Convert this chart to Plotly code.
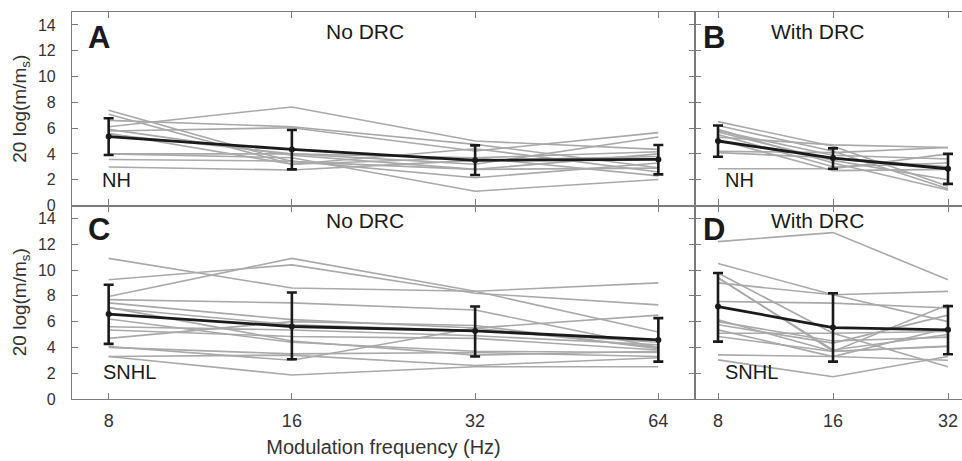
import math
import plotly.graph_objects as go

# ---------------- data ----------------
freqs_no_drc = [8, 16, 32, 64]
freqs_drc = [8, 16, 32]

# Panel A: NH, No DRC (individual listeners)
nh_no_drc = [
    [7.38, 3.4, 2.8, 2.9],
    [7.07, 3.2, 3.7, 2.3],
    [6.11, 7.64, 5.0, 4.35],
    [6.6, 6.11, 4.74, 2.93],
    [5.77, 6.03, 4.22, 5.65],
    [5.52, 4.0, 3.2, 5.31],
    [4.0, 4.0, 3.7, 4.17],
    [4.0, 3.7, 1.11, 2.02],
    [3.57, 3.44, 2.15, 3.3],
    [2.98, 2.75, 3.5, 3.8],
    [5.9, 3.9, 2.8, 4.0],
    [5.6, 3.2, 4.4, 2.6],
]
nh_no_drc_mean = [5.34, 4.35, 3.5, 3.57]
nh_no_drc_hi = [6.76, 5.85, 4.66, 4.69]
nh_no_drc_lo = [3.91, 2.8, 2.36, 2.41]

# Panel B: NH, With DRC
nh_drc = [
    [6.5, 4.6, 1.5],
    [6.2, 4.2, 1.3],
    [5.9, 3.3, 1.2],
    [5.7, 3.5, 2.0],
    [5.5, 3.0, 3.3],
    [5.3, 4.7, 4.5],
    [5.1, 2.7, 2.8],
    [4.2, 4.1, 4.5],
    [4.1, 3.7, 3.0],
    [2.85, 2.85, 4.0],
    [5.8, 3.9, 3.6],
]
nh_drc_mean = [5.0, 3.68, 2.85]
nh_drc_hi = [6.2, 4.43, 4.0]
nh_drc_lo = [3.78, 2.85, 1.68]

# Panel C: SNHL, No DRC
snhl_no_drc = [
    [10.9, 8.6, 8.35, 9.0],
    [7.95, 10.9, 8.35, 5.2],
    [9.25, 10.4, 8.2, 7.3],
    [7.7, 7.45, 6.9, 4.0],
    [7.45, 6.15, 5.5, 6.5],
    [7.05, 5.75, 5.3, 4.4],
    [5.6, 5.35, 4.9, 4.2],
    [5.35, 4.85, 4.7, 3.8],
    [4.7, 6.0, 5.7, 3.9],
    [4.07, 3.0, 5.5, 4.0],
    [4.0, 3.5, 3.6, 3.3],
    [3.3, 1.86, 2.5, 2.5],
    [3.3, 3.4, 2.6, 3.2],
    [6.2, 4.4, 3.7, 3.6],
    [7.1, 4.5, 3.4, 3.7],
]
snhl_no_drc_mean = [6.58, 5.62, 5.28, 4.58]
snhl_no_drc_hi = [8.86, 8.26, 7.17, 6.27]
snhl_no_drc_lo = [4.27, 3.08, 3.29, 2.9]

# Panel D: SNHL, With DRC
snhl_drc = [
    [12.2, 12.9, 9.25],
    [10.5, 8.08, 6.0],
    [9.77, 5.1, 2.5],
    [9.4, 3.7, 4.1],
    [9.0, 8.08, 8.34],
    [7.56, 7.43, 7.05],
    [6.14, 3.68, 7.3],
    [5.75, 4.33, 6.5],
    [5.36, 3.29, 5.5],
    [5.1, 5.1, 5.23],
    [4.84, 3.68, 4.07],
    [3.42, 3.29, 3.0],
    [3.03, 1.73, 3.3],
    [6.0, 4.5, 4.8],
    [9.4, 3.8, 5.0],
]
snhl_drc_mean = [7.17, 5.54, 5.36]
snhl_drc_hi = [9.77, 8.2, 7.2]
snhl_drc_lo = [4.45, 2.9, 3.47]

y_ticks = [0, 2, 4, 6, 8, 10, 12, 14]

# ---------------- figure ----------------
GRAY = "#a9a9a9"
AX = "#7a7a7a"
TXT = "#333333"
FONT = "Liberation Sans"

fig = go.Figure()

panels = [
    ("x", "y", freqs_no_drc, nh_no_drc, nh_no_drc_mean, nh_no_drc_hi, nh_no_drc_lo),
    ("x2", "y2", freqs_drc, nh_drc, nh_drc_mean, nh_drc_hi, nh_drc_lo),
    ("x3", "y3", freqs_no_drc, snhl_no_drc, snhl_no_drc_mean, snhl_no_drc_hi, snhl_no_drc_lo),
    ("x4", "y4", freqs_drc, snhl_drc, snhl_drc_mean, snhl_drc_hi, snhl_drc_lo),
]

for xa, ya, fx, indiv, mean, hi, lo in panels:
    for row in indiv:
        fig.add_trace(go.Scatter(x=fx, y=row, mode="lines", xaxis=xa, yaxis=ya,
                                 line=dict(color=GRAY, width=1.6), showlegend=False,
                                 hoverinfo="skip"))
    fig.add_trace(go.Scatter(
        x=fx, y=mean, mode="lines+markers", xaxis=xa, yaxis=ya,
        line=dict(color="#1a1a1a", width=2.8),
        marker=dict(color="#1a1a1a", size=6),
        error_y=dict(type="data", symmetric=False,
                     array=[h - m for h, m in zip(hi, mean)],
                     arrayminus=[m - l for m, l in zip(mean, lo)],
                     color="#1a1a1a", thickness=2.6, width=5),
        showlegend=False))

L2 = math.log10(2)
left_range = [math.log10(8) - 0.2 * L2, math.log10(64) + 0.2 * L2]
right_range = [math.log10(8) - 0.2 * L2, math.log10(8) + (-0.2 + 267 / 115) * L2]

common_x = dict(type="log", showline=True, linecolor=AX, linewidth=1.2,
                ticks="inside", ticklen=6, tickcolor=AX, tickwidth=1,
                showgrid=False, zeroline=False, automargin=False,
                tickfont=dict(family=FONT, size=18, color=TXT), ticklabelstandoff=5)
common_y = dict(range=[0, 15], showline=True, linecolor=AX, linewidth=1.2,
                ticks="inside", ticklen=6, tickcolor=AX, tickwidth=1,
                showgrid=False, zeroline=False, tickvals=y_ticks, automargin=False,
                tickfont=dict(family=FONT, size=16, color=TXT), ticklabelstandoff=12)

ytitle = dict(text="20 log(m/m<sub>s</sub>)", font=dict(family=FONT, size=19, color=TXT), standoff=6)

fig.update_layout(
    width=962, height=461,
    margin=dict(l=72, r=0, t=12, b=62),
    paper_bgcolor="white", plot_bgcolor="white",
    showlegend=False,
    xaxis=dict(common_x, domain=[0, 0.7], anchor="y", range=left_range,
               tickvals=freqs_no_drc, showticklabels=False, mirror="ticks"),
    yaxis=dict(common_y, domain=[0.5, 1], anchor="x", mirror="ticks", title=ytitle),
    xaxis2=dict(common_x, domain=[0.7, 1], anchor="y2", range=right_range,
                tickvals=freqs_drc, showticklabels=False, mirror="ticks"),
    yaxis2=dict(common_y, domain=[0.5, 1], anchor="x2", showticklabels=False),
    xaxis3=dict(common_x, domain=[0, 0.7], anchor="y3", range=left_range,
                tickvals=freqs_no_drc, ticktext=[str(v) for v in freqs_no_drc], mirror="ticks",
                title=dict(text="Modulation frequency (Hz)",
                           font=dict(family=FONT, size=20, color=TXT), standoff=10)),
    yaxis3=dict(common_y, domain=[0, 0.5], anchor="x3", mirror="ticks", title=ytitle),
    xaxis4=dict(common_x, domain=[0.7, 1], anchor="y4", range=right_range,
                tickvals=freqs_drc, ticktext=[str(v) for v in freqs_drc], mirror="ticks"),
    yaxis4=dict(common_y, domain=[0, 0.5], anchor="x4", showticklabels=False),
)

def ann(text, xa, ya, x, y, size, bold=False, color="#1a1a1a"):
    fig.add_annotation(text=f"<b>{text}</b>" if bold else text,
                       xref=f"{xa} domain", yref=f"{ya} domain", x=x, y=y,
                       showarrow=False, xanchor="center", yanchor="middle",
                       font=dict(family=FONT, size=size, color=color))

ann("A", "x", "y", 0.043, 0.866, 31, bold=True)
ann("No DRC", "x", "y", 0.47, 0.897, 21)
ann("NH", "x", "y", 0.072, 0.134, 20)
ann("B", "x2", "y2", 0.071, 0.866, 31, bold=True)
ann("With DRC", "x2", "y2", 0.46, 0.897, 21)
ann("NH", "x2", "y2", 0.165, 0.134, 20)
ann("C", "x3", "y3", 0.043, 0.876, 31, bold=True)
ann("No DRC", "x3", "y3", 0.47, 0.92, 21)
ann("SNHL", "x3", "y3", 0.093, 0.14, 20)
ann("D", "x4", "y4", 0.071, 0.876, 31, bold=True)
ann("With DRC", "x4", "y4", 0.46, 0.92, 21)
ann("SNHL", "x4", "y4", 0.213, 0.14, 20)

# remove the page's default body margin so the figure fills the window exactly
fig.write_html("out.html", config={"displayModeBar": False},
               post_script="document.body.style.margin='0';document.body.style.overflow='hidden';")
